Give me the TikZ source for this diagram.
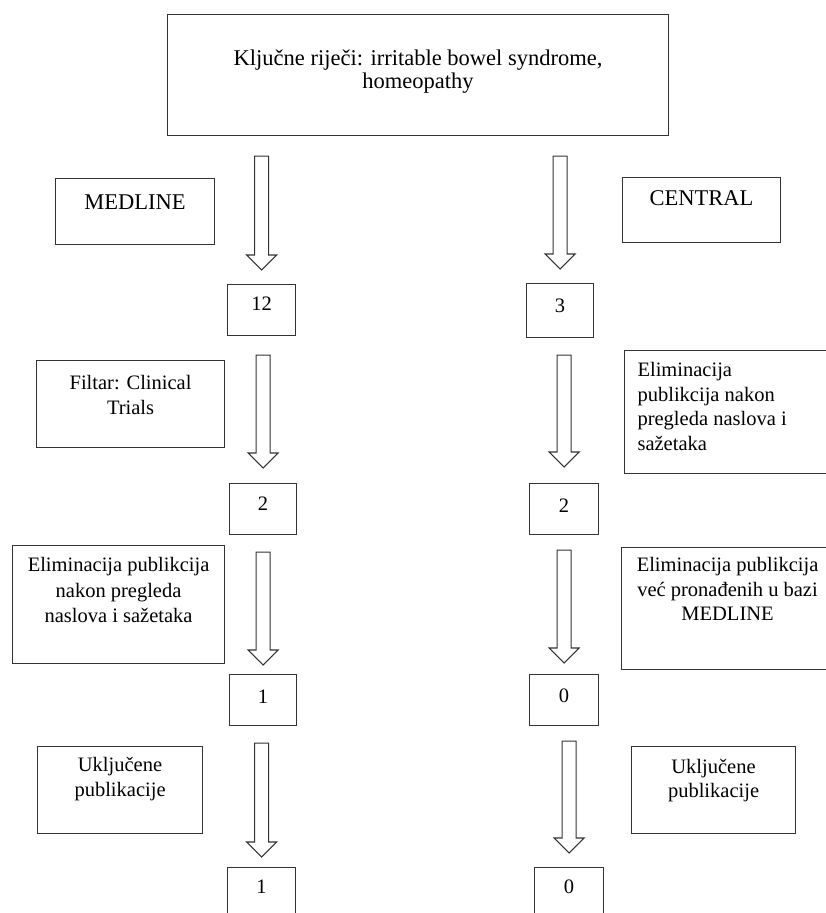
\documentclass[tikz,border=0pt]{standalone}
\usepackage{fontspec}
\setmainfont{Liberation Serif}
\usetikzlibrary{calc}

% text block inside a box: width, height, top padding, text
\newcommand{\boxtext}[4]{\parbox[t][#2][t]{#1}{\vspace*{#3}\centering\strut #4}}

% hollow block arrow between two boxes: from, to, top gap, bottom gap
\newcommand{\hollowarrow}[4]{%
  \draw[blockarr] let \p1=($(#1.south -| #2.north)+(0,#3)$), \p2=($(#2.north)+(0,-#4)$) in
    (\x1-7pt,\y1) -- (\x1-7pt,\y2+15pt) -- (\x1-15pt,\y2+15pt) -- (\x1,\y2)
    -- (\x1+15pt,\y2+15pt) -- (\x1+7pt,\y2+15pt) -- (\x1+7pt,\y1) -- cycle;}

\begin{document}
\begin{tikzpicture}[
  x=1pt, y=-1pt,
  box/.style={draw=black!80, line width=1.1pt, inner sep=0pt, anchor=north west,
    font=\fontsize{20.5}{24.5}\selectfont},
  bigtxt/.style={font=\fontsize{22.5}{24.5}\selectfont},
  blockarr/.style={draw=black!80, line width=1.1pt, fill=white, line join=miter}
]
\useasboundingbox (0,0) rectangle (825,913);

\node [box, font=\fontsize{22.5}{23}\selectfont] (kw) at (167,14) {\boxtext{501pt}{121pt}{35pt}{Ključne riječi: irritable bowel syndrome,\\ homeopathy}};

% MEDLINE column
\node [box, bigtxt] (medline) at (55,178) {\boxtext{159pt}{66pt}{14pt}{MEDLINE}};
\node [box] (n12) at (227,284) {\boxtext{68pt}{51pt}{9pt}{12}};
\node [box] (filtar) at (36,360) {\boxtext{188pt}{87pt}{12pt}{Filtar: Clinical\\ Trials}};
\node [box] (nL2) at (229,483) {\boxtext{67pt}{51pt}{9.5pt}{2}};
\node [box, font=\fontsize{20.5}{25.5}\selectfont] (elimL) at (12,545) {\boxtext{212pt}{118pt}{8.5pt}{Eliminacija publikcija\\ nakon pregleda\\ naslova i sažetaka}};
\node [box] (nL1) at (229,674) {\boxtext{67pt}{51pt}{11.5pt}{1}};
\node [box] (uklL) at (37,746) {\boxtext{165pt}{87pt}{8pt}{Uključene\\ publikacije}};
\node [box] (nL1b) at (227,867) {\boxtext{68pt}{55pt}{9pt}{1}};

% CENTRAL column
\node [box, bigtxt] (central) at (622,177) {\boxtext{158pt}{65pt}{11pt}{CENTRAL}};
\node [box] (n3) at (526,283) {\boxtext{67pt}{54pt}{12pt}{3}};
\node [box] (elimR1) at (624,350) {\parbox[t][123pt][t]{210pt}{\vspace*{9pt}\raggedright\leftskip=13pt\strut Eliminacija\\ publikcija nakon\\ pregleda naslova i\\ sažetaka}};
\node [box] (nR2) at (529,483) {\boxtext{69pt}{51pt}{11.5pt}{2}};
\node [box] (elimR2) at (621,547) {\boxtext{212pt}{122pt}{7pt}{Eliminacija publikcija\\ već pronađenih u bazi\\ MEDLINE}};
\node [box] (nR0) at (529,674) {\boxtext{69pt}{51pt}{10.5pt}{0}};
\node [box] (uklR) at (631,746) {\boxtext{164pt}{87pt}{9.5pt}{Uključene\\ publikacije}};
\node [box] (nR0b) at (534,867) {\boxtext{69pt}{55pt}{9pt}{0}};

\hollowarrow{kw}{n12}{20}{14}
\hollowarrow{n12}{nL2}{19}{15}
\hollowarrow{nL2}{nL1}{17}{9}
\hollowarrow{nL1}{nL1b}{17}{10}

\hollowarrow{kw}{n3}{20}{14}
\hollowarrow{n3}{nR2}{17}{16}
\hollowarrow{nR2}{nR0}{15}{11}
\hollowarrow{nR0}{nR0b}{15}{14}
\end{tikzpicture}
\end{document}
